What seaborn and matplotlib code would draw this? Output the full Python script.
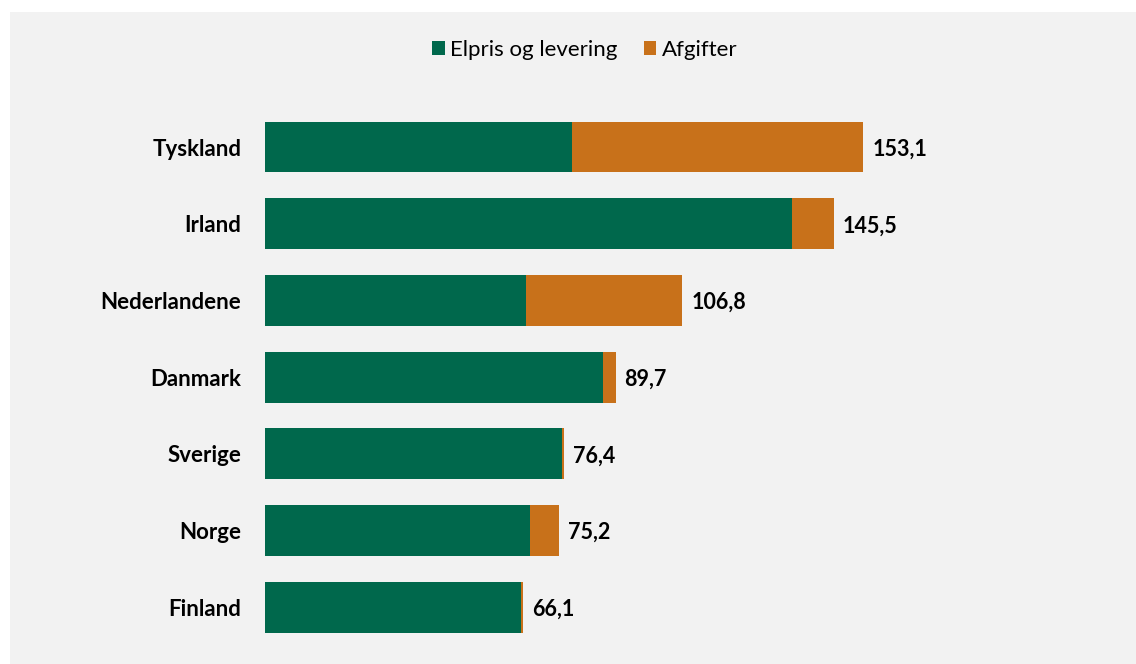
import matplotlib
matplotlib.use("Agg")
import matplotlib.pyplot as plt
import seaborn as sns
import pandas as pd
import numpy as np
from matplotlib.patches import Rectangle

countries = ["Tyskland", "Irland", "Nederlandene", "Danmark", "Sverige", "Norge", "Finland"]
elpris = [78.6, 134.9, 66.9, 86.4, 76.0, 67.8, 65.6]
afgifter = [74.5, 10.6, 39.9, 3.3, 0.4, 7.4, 0.5]
total_labels = ["153,1", "145,5", "106,8", "89,7", "76,4", "75,2", "66,1"]

GREEN = "#00684C"
ORANGE = "#C8711A"
BG = "#F2F2F2"

sns.set_style("white")
plt.rcParams["font.family"] = ["Lato", "DejaVu Sans"]

df = pd.DataFrame({"land": countries, "elpris": elpris, "afgifter": afgifter})
df["total"] = df["elpris"] + df["afgifter"]

W, H = 1136, 664
fig = plt.figure(figsize=(W / 100, H / 100), dpi=100)
fig.patch.set_facecolor("white")
fig.patches.append(Rectangle((10 / W, 0), 1 - 10 / W, 1 - 12 / H, transform=fig.transFigure,
                             facecolor=BG, edgecolor="none", zorder=-10))

left_px, right_px = 265, 1085
top_px, bot_px = 101, 649.2
ax = fig.add_axes([left_px / W, 1 - bot_px / H, (right_px - left_px) / W, (bot_px - top_px) / H])
ax.set_facecolor("none")

sns.barplot(data=df, y="land", x="total", color=ORANGE, saturation=1, width=0.665,
            orient="h", ax=ax, edgecolor="none", label="Afgifter")
sns.barplot(data=df, y="land", x="elpris", color=GREEN, saturation=1, width=0.665,
            orient="h", ax=ax, edgecolor="none", label="Elpris og levering")

handles, labels = ax.get_legend_handles_labels()
if ax.get_legend() is not None:
    ax.get_legend().remove()

ax.set_xlim(0, (right_px - left_px) / 3.908)
ax.set_ylim(6.55, -0.6)
ax.set_xlabel("")
ax.set_ylabel("")
ax.set_xticks([])
for s in ax.spines.values():
    s.set_visible(False)
ax.tick_params(axis="y", length=0, pad=17, labelcolor="black")
for lab in ax.get_yticklabels():
    lab.set_fontweight("bold")
    lab.set_fontsize(16)

for i, (t, lab) in enumerate(zip(df["total"], total_labels)):
    ax.annotate(lab, (t, i), xytext=(6.5, -1.5), textcoords="offset points",
                va="center", ha="left", fontsize=15.5, fontweight="bold", color="black")

order = [labels.index("Elpris og levering"), labels.index("Afgifter")]
fig.legend([handles[k] for k in order], [labels[k] for k in order],
           loc="center", bbox_to_anchor=(585 / W, 1 - 50 / H), ncol=2, frameon=False,
           fontsize=16, handlelength=0.55, handleheight=0.55, handletextpad=0.25,
           columnspacing=1.2, labelcolor="black")

fig.savefig("out.png", dpi=100)
